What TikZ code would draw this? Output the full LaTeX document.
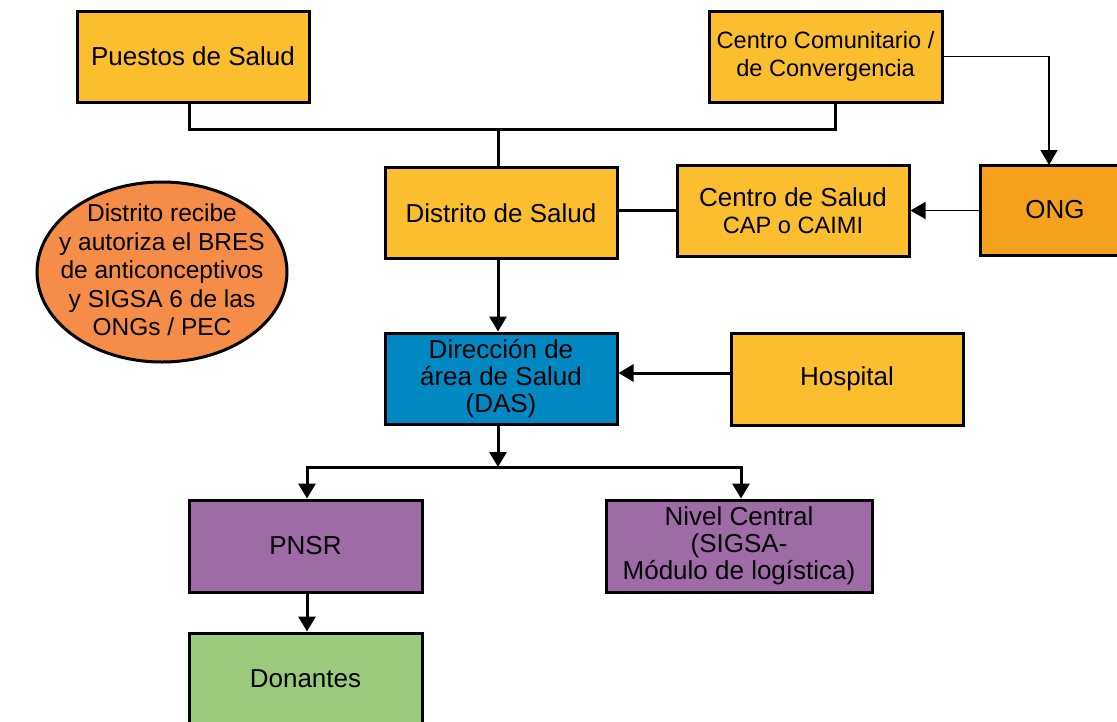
\documentclass[tikz,border=0pt]{standalone}
\usepackage{fontspec}
\setmainfont{Liberation Sans}
\usetikzlibrary{arrows.meta,shapes.geometric}
\definecolor{yel}{HTML}{FBBE2E}
\definecolor{ong}{HTML}{F6A11D}
\definecolor{ell}{HTML}{F58D48}
\definecolor{das}{HTML}{0088C2}
\definecolor{pur}{HTML}{9E6BA6}
\definecolor{grn}{HTML}{9ACB7C}
\tikzset{
  box/.style={draw=black, line width=3pt, rectangle, align=center, inner sep=0pt,
    minimum width=232pt, minimum height=91pt, font=\fontsize{26}{27}\selectfont},
  conn/.style={line width=3pt},
  thin/.style={line width=1.5pt},
  tip/.style={-{Triangle[length=15pt,width=17pt]}},
}
\begin{document}
\begin{tikzpicture}[x=1pt,y=-1pt]
\clip (0,0) rectangle (1117,721);
\fill[white] (0,0) rectangle (1117,721);
\node[box, fill=yel] (pu) at (193,56.5) {Puestos de Salud};
\node[box, fill=yel, minimum width=233pt, font=\fontsize{23.6}{28}\selectfont] (cc) at (825.5,56.5) {Centro Comunitario /\\de Convergencia};
\node[box, fill=yel] (di) at (501,213) {Distrito de Salud};
\node[box, fill=yel] (cs) at (793,210.5) {Centro de Salud\\{\fontsize{23.6}{27}\selectfont CAP o CAIMI}};
\node[box, fill=ong, minimum width=150pt, minimum height=90pt] (ong) at (1055,210) {ONG};
\node[draw=black, line width=3pt, ellipse, fill=ell, minimum width=250pt, minimum height=180pt, inner sep=0pt] (el) at (162,272) {};
\node[align=center, inner sep=0pt, font=\fontsize{24.5}{28.5}\selectfont] (elt) at ([yshift=2pt]el.center) {Distrito recibe\\y autoriza el BRES\\de anticonceptivos\\y SIGSA 6 de las\\ONGs / PEC};
\node[box, fill=das] (da) at (501,378.5) {Dirección de\\área de Salud\\(DAS)};
\node[box, fill=yel, minimum height=92pt] (ho) at (847,379) {Hospital};
\node[box, fill=pur, minimum width=233pt, minimum height=92pt] (pn) at (305.5,546) {PNSR};
\node[box, fill=pur, minimum width=266pt, minimum height=92pt] (nc) at (739,546) {Nivel Central\\(SIGSA-\\Módulo de logística)};
\node[box, fill=grn, minimum width=233pt, minimum height=92pt] (do) at (305.5,679) {Donantes};
\coordinate (j1) at (498,129);
\coordinate (j2) at (498,467);
\coordinate (pus) at (189,101.5);
\coordinate (ccs) at (835,101.5);
\coordinate (ongn) at (1049,165);
\draw[conn] (pus) |- (j1) -| (ccs);
\draw[conn] (j1) -- (j1 |- di.north);
\draw[thin, tip] (cc.east) -| (ongn);
\draw[thin, tip] (ong.west |- cs.east) -- (cs.east);
\draw[conn] (di.east |- cs.east) -- (cs.west);
\draw[conn, tip] (di.south -| j1) -- (da.north -| j1);
\draw[conn, tip] (ho.west |- 0,373) -- (da.east |- 0,373);
\draw[conn, tip] (da.south -| j2) -- (j2);
\draw[conn, tip] (j2) -| (pn.north -| 307,0);
\draw[conn, tip] (j2) -| (nc.north -| 741,0);
\draw[conn, tip] (pn.south -| 307,0) -- (do.north -| 307,0);
\end{tikzpicture}
\end{document}
